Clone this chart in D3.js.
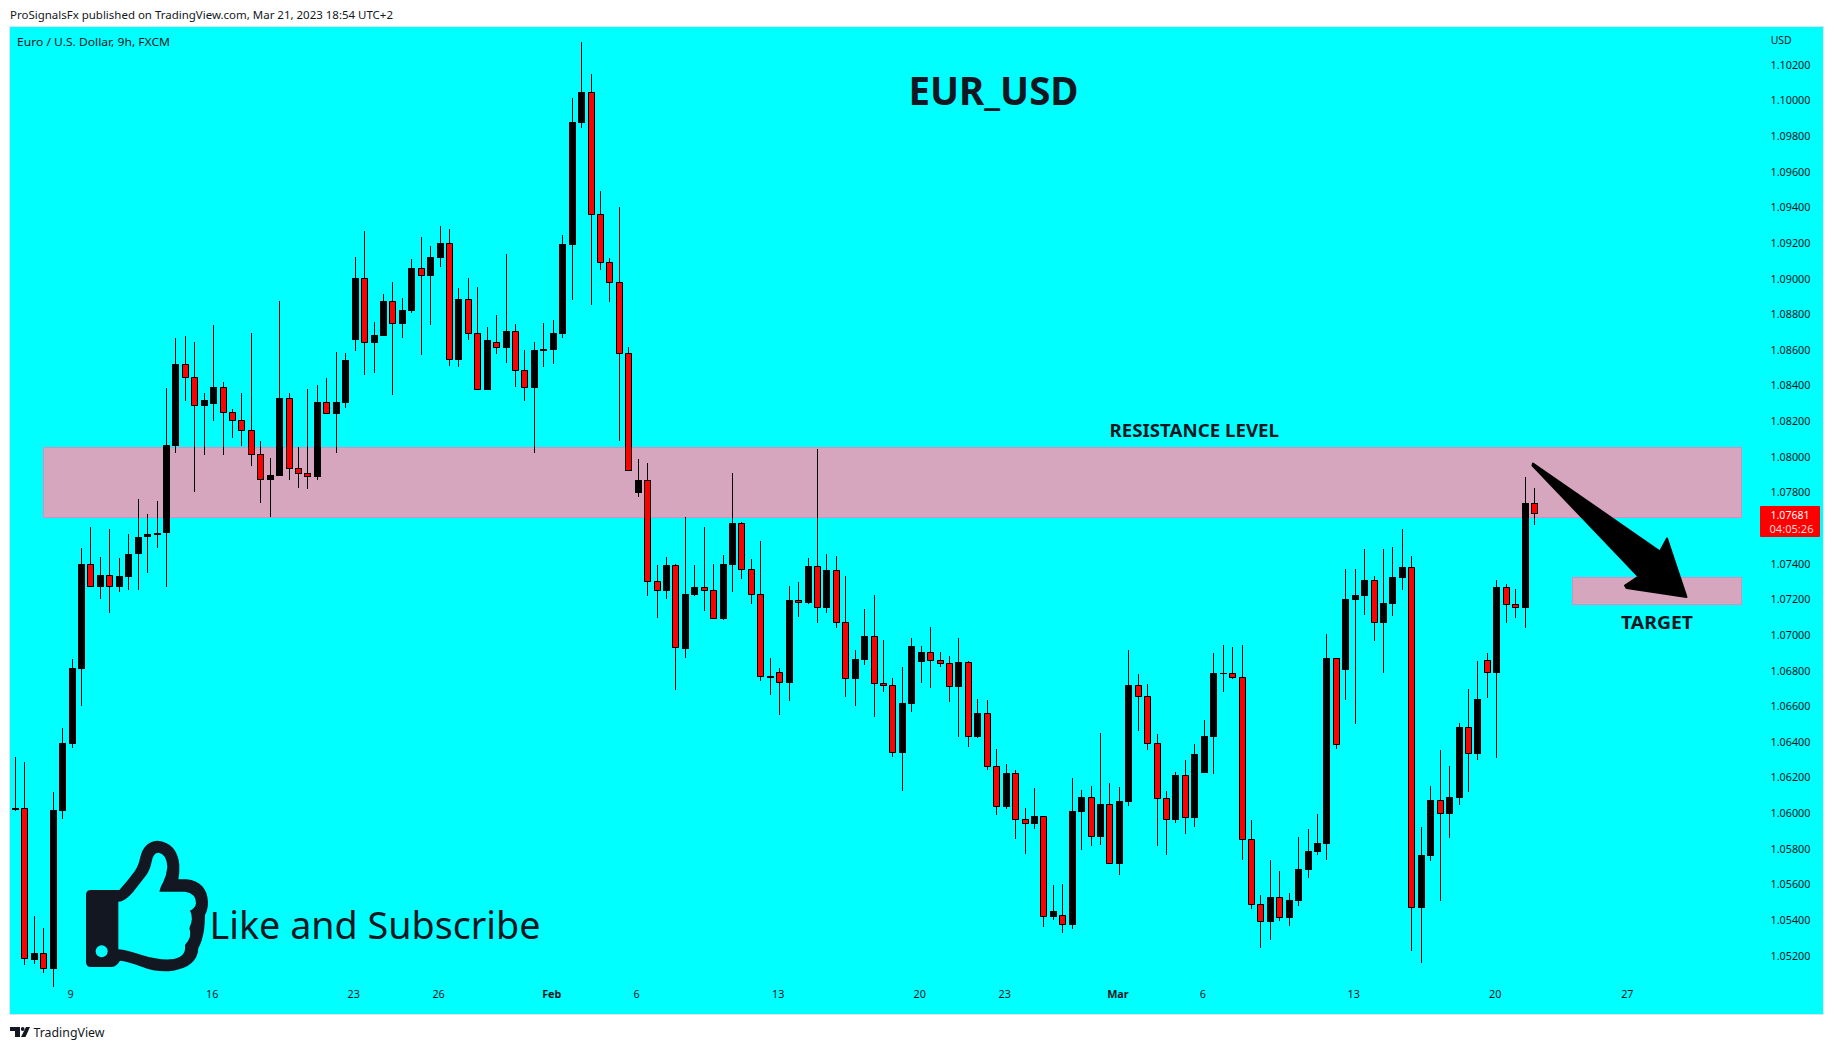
<!DOCTYPE html>
<html>
<head>
<meta charset="utf-8">
<script src="https://cdnjs.cloudflare.com/ajax/libs/d3/7.8.5/d3.min.js"></script>
<style>
html,body{margin:0;padding:0;background:#fff;overflow:hidden}
svg{display:block}
text{font-family:"Noto Sans","Open Sans",sans-serif;fill:#131722}
</style>
</head>
<body>
<svg id="c" width="1834" height="1050"></svg>
<script>
const opens=[
1.06018,1.06029,1.05175,1.05215,1.05124,1.06012,1.06388,1.06809,1.07400,1.07269,
1.07337,1.07269,1.07326,1.07457,1.07549,1.07560,1.07571,1.08060,1.08521,1.08448,
1.08284,1.08296,1.08391,1.08251,1.08206,1.08150,1.08015,1.07869,1.07892,1.08329,
1.07937,1.07909,1.07886,1.08307,1.08240,1.08301,1.08655,1.09003,1.08638,1.08677,
1.08874,1.08745,1.08818,1.09059,1.09014,1.09115,1.09199,1.08543,1.08885,1.08694,
1.08374,1.08644,1.08610,1.08706,1.08487,1.08385,1.08593,1.08599,1.08689,1.09188,
1.09873,1.10047,1.09362,1.09093,1.08980,1.08582,1.07796,1.07869,1.07303,1.07246,
1.07392,1.06921,1.07224,1.07269,1.07252,1.07089,1.07392,1.07628,1.07370,1.07230,
1.06769,1.06792,1.06730,1.07196,1.07179,1.07387,1.07151,1.07364,1.07073,1.06753,
1.06859,1.06994,1.06730,1.06719,1.06337,1.06613,1.06848,1.06904,1.06859,1.06843,
1.06708,1.06848,1.06427,1.06562,1.06265,1.06035,1.06226,1.05967,1.05939,1.05984,
1.05417,1.05428,1.05372,1.06007,1.06091,1.05866,1.06052,1.05715,1.06063,1.06719,
1.06657,1.06393,1.06085,1.05961,1.06214,1.05973,1.06226,1.06427,1.06783,1.06786,
1.06764,1.05855,1.05490,1.05389,1.05529,1.05411,1.05507,1.05681,1.05782,1.05827,
1.06870,1.06803,1.07196,1.07218,1.07308,1.07067,1.07174,1.07319,1.07381,1.05467,
1.05759,1.06074,1.05995,1.06085,1.06483,1.06332,1.06859,1.06786,1.07269,1.07174,
1.07151,1.07740];
const highs=[
1.06313,1.06285,1.05425,1.05357,1.06120,1.06478,1.06865,1.07486,1.07605,1.07440,
1.07594,1.07434,1.07566,1.07763,1.07679,1.07751,1.08385,1.08666,1.08677,1.08644,
1.08357,1.08739,1.08420,1.08268,1.08357,1.08694,1.08088,1.07993,1.08874,1.08357,
1.08055,1.08380,1.08403,1.08442,1.08588,1.08582,1.09121,1.09267,1.08756,1.08913,
1.08980,1.08891,1.09110,1.09233,1.09182,1.09295,1.09278,1.08947,1.09003,1.08953,
1.08728,1.08795,1.09138,1.08745,1.08599,1.08644,1.08750,1.08767,1.09244,1.10013,
1.10327,1.10148,1.09491,1.09115,1.09401,1.08616,1.07987,1.07965,1.07392,1.07437,
1.07398,1.07662,1.07392,1.07606,1.07398,1.07448,1.07909,1.07634,1.07426,1.07527,
1.06870,1.06814,1.07275,1.07297,1.07432,1.08043,1.07454,1.07443,1.07331,1.06915,
1.07146,1.07224,1.06971,1.06758,1.06820,1.06983,1.06938,1.07045,1.06904,1.06882,
1.06983,1.06854,1.06640,1.06635,1.06360,1.06276,1.06242,1.06029,1.06141,1.05984,
1.05597,1.05603,1.06197,1.06130,1.06152,1.06450,1.06169,1.06147,1.06915,1.06781,
1.06725,1.06444,1.06124,1.06231,1.06298,1.06388,1.06523,1.06899,1.06943,1.06932,
1.06943,1.05961,1.05540,1.05737,1.05675,1.05552,1.05866,1.05911,1.05995,1.07006,
1.06870,1.07370,1.07370,1.07482,1.07331,1.07482,1.07493,1.07595,1.07443,1.05922,
1.06152,1.06354,1.06265,1.06506,1.06696,1.06854,1.06899,1.07308,1.07286,1.07258,
1.07886,1.07824];
const lows=[
1.06012,1.05147,1.05152,1.05102,1.05022,1.05965,1.06365,1.06604,1.07269,1.07201,
1.07121,1.07241,1.07252,1.07252,1.07349,1.07486,1.07269,1.08021,1.08312,1.07802,
1.08010,1.08200,1.08010,1.08105,1.08060,1.07948,1.07740,1.07662,1.07892,1.07869,
1.07824,1.07819,1.07869,1.08240,1.08021,1.08273,1.08593,1.08459,1.08470,1.08677,
1.08346,1.08666,1.08807,1.08571,1.08739,1.09065,1.08509,1.08504,1.08655,1.08374,
1.08374,1.08577,1.08526,1.08391,1.08312,1.08021,1.08504,1.08521,1.08666,1.08880,
1.09845,1.08851,1.09048,1.08868,1.08088,1.07920,1.07774,1.07218,1.07095,1.07202,
1.06691,1.06870,1.07218,1.07134,1.07089,1.07084,1.07241,1.07314,1.07174,1.06741,
1.06663,1.06551,1.06629,1.07101,1.07174,1.07067,1.07123,1.07039,1.06652,1.06601,
1.06831,1.06539,1.06680,1.06315,1.06124,1.06568,1.06730,1.06702,1.06820,1.06624,
1.06427,1.06371,1.06422,1.06242,1.05990,1.06023,1.05855,1.05771,1.05911,1.05361,
1.05400,1.05327,1.05350,1.05793,1.05815,1.05821,1.05715,1.05653,1.06040,1.06461,
1.06354,1.05815,1.05765,1.05945,1.05883,1.05922,1.06226,1.06220,1.06680,1.06753,
1.05737,1.05462,1.05243,1.05288,1.05395,1.05367,1.05479,1.05636,1.05765,1.05737,
1.06360,1.06635,1.06500,1.07112,1.06966,1.06786,1.07106,1.07252,1.05226,1.05159,
1.05731,1.05507,1.05860,1.06046,1.06119,1.06298,1.06646,1.06309,1.07067,1.07095,
1.07039,1.07617];
const closes=[
1.06029,1.05181,1.05215,1.05124,1.06018,1.06393,1.06814,1.07400,1.07269,1.07337,
1.07269,1.07332,1.07457,1.07549,1.07566,1.07571,1.08066,1.08521,1.08442,1.08284,
1.08318,1.08391,1.08245,1.08200,1.08144,1.08010,1.07869,1.07897,1.08329,1.07931,
1.07903,1.07886,1.08307,1.08240,1.08307,1.08543,1.09003,1.08638,1.08683,1.08874,
1.08745,1.08823,1.09059,1.09014,1.09121,1.09199,1.08543,1.08885,1.08689,1.08374,
1.08655,1.08610,1.08706,1.08481,1.08385,1.08599,1.08604,1.08694,1.09194,1.09878,
1.10047,1.09356,1.09087,1.08975,1.08577,1.07920,1.07869,1.07297,1.07246,1.07392,
1.06927,1.07230,1.07269,1.07246,1.07089,1.07398,1.07628,1.07364,1.07224,1.06764,
1.06758,1.06730,1.07196,1.07179,1.07387,1.07151,1.07364,1.07067,1.06753,1.06865,
1.06994,1.06725,1.06713,1.06337,1.06618,1.06938,1.06904,1.06854,1.06837,1.06708,
1.06848,1.06427,1.06562,1.06259,1.06035,1.06226,1.05961,1.05939,1.05984,1.05417,
1.05451,1.05372,1.06012,1.06091,1.05866,1.06052,1.05715,1.06068,1.06719,1.06652,
1.06388,1.06079,1.05961,1.06214,1.05973,1.06332,1.06433,1.06786,1.06786,1.06758,
1.05849,1.05484,1.05389,1.05529,1.05411,1.05512,1.05686,1.05787,1.05832,1.06870,
1.06382,1.07202,1.07224,1.07308,1.07067,1.07179,1.07325,1.07381,1.05467,1.05765,
1.06074,1.05995,1.06091,1.06483,1.06332,1.06640,1.06786,1.07269,1.07168,1.07151,
1.07740,1.07681];

const priceTicks=[1.052,1.054,1.056,1.058,1.060,1.062,1.064,1.066,1.068,1.070,1.072,1.074,1.076,1.078,1.080,1.082,1.084,1.086,1.088,1.090,1.092,1.094,1.096,1.098,1.100,1.102];
const timeTickBars=[6,21,36,45,57,66,81,96,105,117,126,142,157,171];
const timeTickLabels=["9","16","23","26","Feb","6","13","20","23","Mar","6","13","20","27"];
const resistanceZone=[1.08053,1.07660];
const targetZone=[1.07323,1.07172];
const lastPrice=1.07681;

const svg=d3.select("#c");
const x=d3.scaleLinear().domain([0,161]).range([15.5,1534.5]);
const y=d3.scaleLinear().domain([1.052,1.102]).range([955.7,64.7]);
const px=i=>Math.floor(x(i))+0.5;
const py=v=>Math.round(y(v));

svg.append("rect").attr("x",9.5).attr("y",26.5).attr("width",1814).attr("height",988)
  .attr("fill","#00ffff").attr("stroke","#dfe3ea");

function zone(a,b,x0,x1){
  svg.append("rect").attr("x",x0+.5).attr("y",py(a)+.5).attr("width",x1-x0).attr("height",py(b)-py(a))
   .attr("fill","#d6a5be").attr("stroke","#d48fc2");
}
zone(resistanceZone[0],resistanceZone[1],43,1741);
zone(targetZone[0],targetZone[1],1572,1741);

const candles=opens.map((o,i)=>({i,o,h:highs[i],l:lows[i],c:closes[i]}));
const g=svg.append("g").attr("shape-rendering","crispEdges");
g.selectAll("line.w").data(candles).join("line").attr("class","w")
 .attr("x1",d=>px(d.i)).attr("x2",d=>px(d.i))
 .attr("y1",d=>py(d.h)).attr("y2",d=>py(d.l))
 .attr("stroke","#000").attr("stroke-width",1);
g.selectAll("rect.b").data(candles).join("rect").attr("class","b")
 .attr("x",d=>d.c>=d.o?px(d.i)-3.5:px(d.i)-3)
 .attr("width",d=>d.c>=d.o?7:6)
 .attr("y",d=>{const t=py(Math.max(d.o,d.c));return d.c>=d.o?t:t+.5})
 .attr("height",d=>{const h=py(Math.min(d.o,d.c))-py(Math.max(d.o,d.c));return d.c>=d.o?Math.max(1,h):Math.max(1,h-1)})
 .attr("fill",d=>d.c>=d.o?"#000":"#ff0000")
 .attr("stroke",d=>d.c>=d.o?"none":"#000")
 .attr("stroke-width",1);

// axes
const yAxis=d3.axisRight(y).tickValues(priceTicks).tickSize(0).tickFormat(d3.format(".5f"));
const ya=svg.append("g").attr("transform","translate(1770.5,0)").call(yAxis);
ya.select(".domain").remove();
ya.selectAll("text").attr("x",0).attr("font-size",10.8).style("font-family",'"Noto Sans"').attr("fill","#131722");
const xAxis=d3.axisBottom(x).tickValues(timeTickBars).tickSize(0).tickFormat((d,i)=>timeTickLabels[i]);
const xa=svg.append("g").attr("transform","translate(-2,990)").call(xAxis);
xa.select(".domain").remove();
xa.selectAll("text").attr("y",0).attr("dy","0.71em").attr("font-size",10.8).style("font-family",'"Noto Sans"').attr("fill","#131722")
  .attr("font-weight",(d,i)=>/[A-Z]/.test(timeTickLabels[i])?"700":"400");

function t(s,xx,yy,size,w,opt={}){
  const e=svg.append("text").text(s).attr("x",xx).attr("y",yy).attr("font-size",size)
    .attr("textLength",w).attr("lengthAdjust","spacingAndGlyphs");
  if(opt.weight)e.attr("font-weight",opt.weight);
  if(opt.fill)e.style("fill",opt.fill);
  if(opt.family)e.style("font-family",opt.family);
  return e;
}
t("ProSignalsFx published on TradingView.com, Mar 21, 2023 18:54 UTC+2",10,19,11.5,383);
t("Euro / U.S. Dollar, 9h, FXCM",17,45.5,11,153);
t("USD",1770.7,44,10.8,21);
t("EUR_USD",908.5,105,40,170,{weight:700});
t("RESISTANCE LEVEL",1109.5,436.8,18.5,169.5,{weight:700});
t("TARGET",1621,628.5,18.5,72,{weight:700});
t("Like and Subscribe",209.5,938.5,38.5,331);
t("TradingView",33.5,1037,12.5,71);

// last price tag
svg.append("rect").attr("x",1760).attr("y",506).attr("width",60).attr("height",31).attr("fill","#ff0000").attr("rx",1);
t(d3.format(".5f")(lastPrice),1770.5,518.8,10.8,39,{fill:"#ffffff"});
t("04:05:26",1769.5,532.8,10.8,44,{fill:"#ffd6d6"});

// arrow annotation
svg.append("path").attr("d","M1533 463.5 L1660 551.5 L1667 538.5 L1686.5 597 L1626.5 588 L1625 585.5 L1638.5 576.5 L1532.5 465.5 Z")
  .attr("fill","#000").attr("stroke","#000").attr("stroke-width",2).attr("stroke-linejoin","round");

// thumb icon
const th=svg.append("g").attr("transform","translate(70,830) scale(0.33333)");
th.append("path").attr("fill","#131722").attr("d","M48 195 Q48 180 63 180 L148 180 Q175 150 195 122 Q205 108 210 85 Q220 35 262 32 Q322 38 328 105 Q329 130 325 148 L350 148 Q410 155 414 215 Q414 240 405 255 Q405 280 402 300 Q398 330 385 355 Q382 410 310 422 Q260 428 215 410 Q170 393 150 392 Q140 410 125 411 L63 411 Q48 411 48 396 Z");
th.append("path").attr("fill","#00ffff").attr("d","M145 215 Q165 215 190 185 L225 140 Q240 122 245 95 Q250 68 265 68 Q290 72 292 110 Q290 135 280 155 Q270 172 268 185 L345 185 Q378 190 378 220 Q376 235 360 242 Q372 262 358 295 Q368 320 345 345 Q350 385 300 388 Q265 390 215 375 Q170 360 145 358 Z");
th.append("circle").attr("cx",95).attr("cy",364).attr("r",18).attr("fill","#00ffff");

// TradingView logo
svg.append("path").attr("fill","#131722").attr("d","M10 1027 H20 V1037 H15 V1031 H10 Z M26 1027 H30 L25.5 1037 H21 Z");
svg.append("circle").attr("cx",22.7).attr("cy",1029).attr("r",1.9).attr("fill","#131722");
</script>
</body>
</html>
